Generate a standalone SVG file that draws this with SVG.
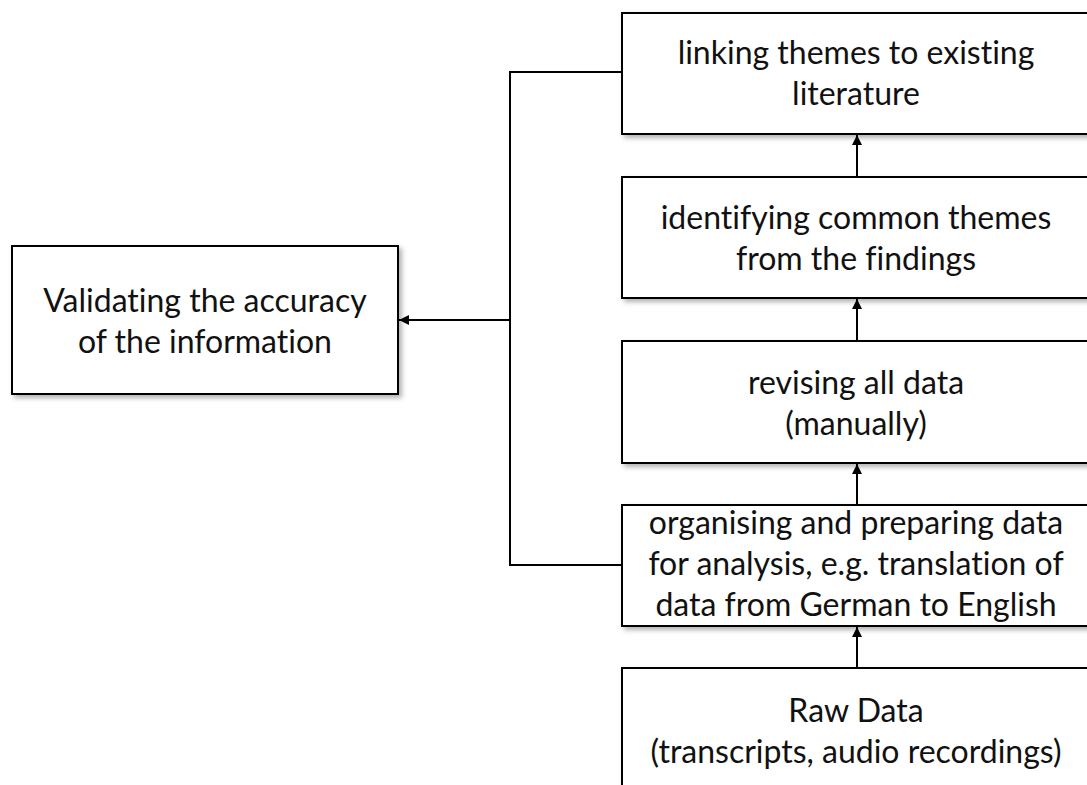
<svg xmlns="http://www.w3.org/2000/svg" width="1087" height="785" viewBox="0 0 1087 785">
<style>
.box{fill:#fff;stroke:#000;stroke-width:2;filter:url(#sh)}
.t{font-family:Lato,"Liberation Sans",sans-serif;font-size:32px;fill:#111;text-anchor:middle;font-variant-ligatures:none;font-feature-settings:"liga" 0}
.c{fill:none;stroke:#000;stroke-width:2}
</style>
<defs>
<filter id="sh" x="-10%" y="-10%" width="130%" height="140%">
<feDropShadow dx="3" dy="3" stdDeviation="2.5" flood-color="#000" flood-opacity="0.3"/>
</filter>
<marker id="ah" viewBox="0 0 10 10" refX="10" refY="5" markerWidth="5" markerHeight="5" orient="auto" markerUnits="strokeWidth">
<path d="M0,0 L10,5 L0,10 z" fill="#000"/>
</marker>
</defs>
<rect width="1087" height="785" fill="#fff"/>
<g id="n-linking"><rect class="box" x="622" y="13" width="470" height="121"/>
<text class="t" x="856" y="64">linking themes to existing</text><text class="t" x="856" y="105">literature</text></g>
<g id="n-identifying"><rect class="box" x="622" y="177" width="470" height="121"/>
<text class="t" x="856" y="229">identifying common themes</text><text class="t" x="856" y="270">from the findings</text></g>
<g id="n-revising"><rect class="box" x="622" y="341" width="470" height="122"/>
<text class="t" x="856" y="394">revising all data</text><text class="t" x="856" y="435">(manually)</text></g>
<g id="n-organising"><rect class="box" x="622" y="505" width="470" height="121"/>
<text class="t" x="856" y="534">organising and preparing data</text><text class="t" x="856" y="575">for analysis, e.g. translation of</text><text class="t" x="856" y="616">data from German to English</text></g>
<g id="n-raw"><rect class="box" x="622" y="668" width="470" height="140"/>
<text class="t" x="856" y="722">Raw Data</text><text class="t" x="856" y="763">(transcripts, audio recordings)</text></g>
<g id="n-validating"><rect class="box" x="12" y="246" width="386" height="148"/>
<text class="t" x="205" y="312">Validating the accuracy</text><text class="t" x="205" y="353">of the information</text></g>
<g id="connectors">
<line class="c" x1="857" y1="668" x2="857" y2="627" marker-end="url(#ah)"/>
<line class="c" x1="857" y1="505" x2="857" y2="464" marker-end="url(#ah)"/>
<line class="c" x1="857" y1="341" x2="857" y2="299" marker-end="url(#ah)"/>
<line class="c" x1="857" y1="177" x2="857" y2="135" marker-end="url(#ah)"/>
<polyline class="c" points="622,72 510,72 510,565 622,565"/>
<line class="c" x1="510" y1="320" x2="399" y2="320" marker-end="url(#ah)"/>
</g>
</svg>
